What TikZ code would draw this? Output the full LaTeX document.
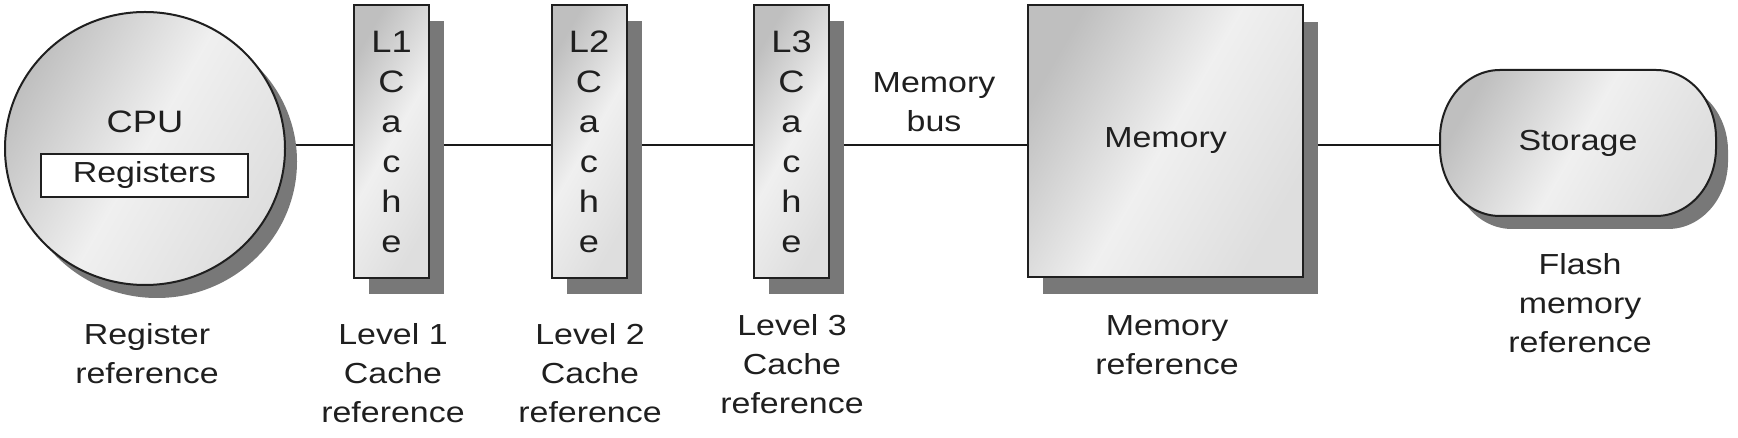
\documentclass[tikz,border=0pt]{standalone}
\usepackage{fontspec}
\setmainfont{Liberation Sans}[FakeStretch=1.17]
\usetikzlibrary{shadows,backgrounds,shapes.geometric}
\begin{document}
\begin{tikzpicture}[x=0.5pt,y=0.5pt,
  every node/.style={text=black!88},
  txt/.style={font=\fontsize{14.5}{19.5}\selectfont, align=center, inner sep=0pt},
  metal/.style={left color=black!25, right color=black!13, middle color=black!6, shading angle=60},
  edge/.style={draw=black!88, line width=1pt},
  conn/.style={draw=black!90, line width=1.3pt},
  shad/.style={fill=black!53},
  cachebox/.style={edge, metal, rectangle, minimum width=37.5pt, minimum height=136.5pt,
    inner sep=0pt, align=center, font=\fontsize{15.5}{20}\selectfont,
    drop shadow={shadow xshift=7.5pt, shadow yshift=-8pt, fill=black!53, opacity=1}},
  membox/.style={edge, metal, rectangle, minimum width=137.5pt, minimum height=136pt,
    inner sep=0pt, font=\fontsize{14.5}{19.5}\selectfont,
    drop shadow={shadow xshift=7.5pt, shadow yshift=-8.5pt, fill=black!53, opacity=1}},
  cpushape/.style={edge, metal, ellipse, minimum width=140pt, minimum height=136.5pt, inner sep=0pt,
    drop shadow={shadow xshift=6pt, shadow yshift=-6.5pt, fill=black!53, opacity=1}},
  regbox/.style={edge, fill=white, rectangle, minimum width=103.5pt, minimum height=21.5pt,
    inner sep=0pt, font=\fontsize{14.5}{19.5}\selectfont},
]
\useasboundingbox (0,0) rectangle (1738,438);

% CPU
\node[cpushape] (cpu) at (145,289.5) {};
\node[txt, font=\fontsize{15.5}{19.5}\selectfont] (cputxt) at (145,316) {CPU};
\node[regbox] (reg) at (144.5,262.5) {Registers};

% caches
\node[cachebox] (l1) at (391.5,296.5) {L1\\C\\a\\c\\h\\e};
\node[cachebox] (l2) at (589,296.5) {L2\\C\\a\\c\\h\\e};
\node[cachebox] (l3) at (791.5,296.5) {L3\\C\\a\\c\\h\\e};

% memory
\node[membox] (mem) at (1165.5,297) {Memory};

% storage (shadow, body, text)
\path[shad] (1512,355) -- (1668,355) arc[start angle=90,end angle=0,x radius=60,y radius=68]
  -- (1728,277) arc[start angle=0,end angle=-90,x radius=60,y radius=68]
  -- (1512,209) arc[start angle=270,end angle=180,x radius=60,y radius=68]
  -- (1452,287) arc[start angle=180,end angle=90,x radius=60,y radius=68] -- cycle;
\path[edge, metal] (1500,368) -- (1656,368) arc[start angle=90,end angle=0,x radius=60,y radius=68]
  -- (1716,290) arc[start angle=0,end angle=-90,x radius=60,y radius=68]
  -- (1500,222) arc[start angle=270,end angle=180,x radius=60,y radius=68]
  -- (1440,300) arc[start angle=180,end angle=90,x radius=60,y radius=68] -- cycle;
\node[txt, minimum width=138pt, minimum height=73pt] (stor) at (1578,295) {Storage};

% labels
\node[txt] (lab1) at (147,84) {Register\\reference};
\node[txt] (lab2) at (393,65) {Level 1\\Cache\\reference};
\node[txt] (lab3) at (590,65) {Level 2\\Cache\\reference};
\node[txt] (lab4) at (792,74) {Level 3\\Cache\\reference};
\node[txt] (lab5) at (1167,93) {Memory\\reference};
\node[txt] (lab6) at (1580,135) {Flash\\memory\\reference};
\node[txt] (bus) at (934,335.5) {Memory\\bus};

% connectors
\coordinate (busline) at (0,293);
\begin{pgfonlayer}{background}
\draw[conn] (cpu.center |- busline) -- (l1.center |- busline);
\draw[conn] (l1.center |- busline) -- (l2.center |- busline);
\draw[conn] (l2.center |- busline) -- (l3.center |- busline);
\draw[conn] (l3.center |- busline) -- (mem.center |- busline);
\draw[conn] (mem.center |- busline) -- (stor.center |- busline);
\end{pgfonlayer}
\end{tikzpicture}
\end{document}
